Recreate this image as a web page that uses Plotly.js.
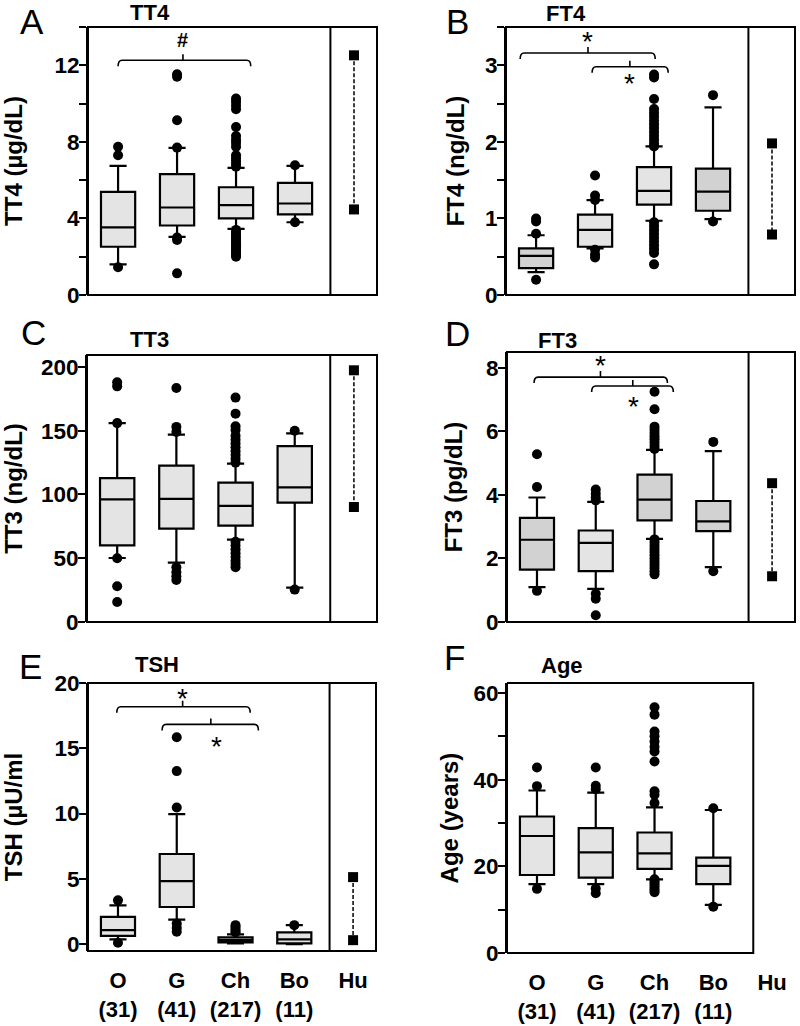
<!DOCTYPE html>
<html>
<head>
<meta charset="utf-8">
<script src="https://cdn.plot.ly/plotly-3.0.1.min.js"></script>
<style>html,body{margin:0;padding:0;background:#fff}#chart{width:800px;height:1026px}</style>
</head>
<body>
<div id="chart"></div>
<script>
// ---------------- data ----------------
const groups = ['O', 'G', 'Ch', 'Bo', 'Hu'];
const counts = ['(31)', '(41)', '(217)', '(11)', ''];

const tt4Q1 = [2.52, 3.63, 4.0, 4.21];
const tt4Med = [3.53, 4.57, 4.7, 4.78];
const tt4Q3 = [5.39, 6.31, 5.63, 5.86];
const tt4Lo = [1.6, 3.04, 3.45, 3.8];
const tt4Hi = [6.75, 7.69, 6.64, 6.75];
const tt4Out = [[7.74, 7.3, 1.45], [11.53, 11.4, 9.13, 7.7, 3.0, 2.87, 1.13],
  [10.26, 10.1, 9.9, 9.7, 8.78, 8.3, 8.1, 7.95, 7.75, 7.3, 7.15, 7.0, 6.85, 6.7,
   3.4, 3.3, 3.2, 3.1, 3.0, 2.9, 2.8, 2.7, 2.6, 2.5, 2.4, 2.3, 2.2, 2.1, 2.0], [6.78, 3.8]];
const tt4Hu = [12.52, 4.47];

const ft4Q1 = [0.35, 0.63, 1.18, 1.10];
const ft4Med = [0.51, 0.85, 1.36, 1.35];
const ft4Q3 = [0.61, 1.05, 1.67, 1.65];
const ft4Lo = [0.30, 0.61, 0.97, 0.99];
const ft4Hi = [0.78, 1.24, 1.94, 2.45];
const ft4Out = [[1.0, 0.96, 0.80, 0.2], [1.56, 1.30, 1.24, 0.59, 0.53, 0.49],
  [2.88, 2.84, 2.56, 2.43, 2.38, 2.33, 2.28, 2.23, 2.18, 2.13, 2.08, 2.03, 1.98, 1.94,
   0.95, 0.90, 0.85, 0.80, 0.75, 0.70, 0.65, 0.60, 0.55, 0.40], [2.61, 0.96]];
const ft4Hu = [1.98, 0.79];

const tt3Q1 = [60.1, 73.2, 75.6, 93.6];
const tt3Med = [96.2, 96.5, 91, 105.6];
const tt3Q3 = [112.9, 122.6, 109.3, 138];
const tt3Lo = [50.2, 46.5, 64.6, 27];
const tt3Hi = [156, 147, 124.2, 148];
const tt3Out = [[188, 184.8, 156, 50, 28, 15.7], [183.5, 153, 149, 43, 39, 35.8, 33],
  [176, 163.4, 153.5, 150.5, 146, 143, 140, 137, 134, 131, 128, 125,
   63, 60, 57, 54, 51, 48, 45.5, 43], [150, 25.4]];
const tt3Hu = [197.4, 90.2];

const ft3Q1 = [1.65, 1.6, 3.2, 2.86];
const ft3Med = [2.59, 2.49, 3.85, 3.17];
const ft3Q3 = [3.28, 2.88, 4.64, 3.81];
const ft3Lo = [1.10, 1.04, 2.62, 1.73];
const ft3Hi = [3.92, 3.78, 5.42, 5.38];
const ft3Out = [[5.28, 4.25, 0.98], [4.17, 4.04, 3.92, 3.83, 0.89, 0.73, 0.21],
  [7.25, 6.7, 6.15, 6.05, 5.95, 5.85, 5.75, 5.65, 5.55, 5.45,
   2.6, 2.5, 2.4, 2.3, 2.2, 2.1, 2.0, 1.9, 1.8, 1.7, 1.6, 1.5], [5.67, 1.6]];
const ft3Hu = [4.37, 1.44];

const tshQ1 = [0.63, 2.84, 0.13, 0.05];
const tshMed = [1.07, 4.82, 0.3, 0.36];
const tshQ3 = [2.08, 6.9, 0.51, 0.89];
const tshLo = [0.36, 1.88, 0.05, 0.0];
const tshHi = [2.97, 9.95, 0.74, 1.45];
const tshOut = [[3.35, 0.1], [15.84, 13.25, 10.46, 1.57, 1.24, 0.94], [1.45, 1.3, 1.15, 1.0, 0.89], [1.45]];
const tshHu = [5.13, 0.3];

const ageQ1 = [18.0, 17.4, 19.4, 15.9];
const ageMed = [27.0, 23.2, 23.0, 20.1];
const ageQ3 = [31.5, 28.8, 27.8, 22.0];
const ageLo = [15.9, 15.9, 17.0, 11.1];
const ageHi = [37.5, 37.0, 33.6, 33.0];
const ageOut = [[42.8, 38.5, 14.8], [42.8, 38.6, 37.8, 14.9, 13.8],
  [56.7, 55.0, 51.1, 50.0, 48.8, 47.6, 46.5, 44.2, 37.3, 36.5, 34.6,
   17.0, 16.5, 16.0, 15.5, 15.0, 14.5, 14.0], [33.4, 10.7]];
const ageHu = [];

// ---------------- styling / layout ----------------
const W = 800, H = 1026;
const FONT = 'Liberation Sans, Arial, sans-serif';
const LIGHT = '#e4e4e4', DARK = '#d2d2d2';
const XR = [-0.51, 4.39];
const DIV = 3.6;
const LABEL_SHIFT = -5;

const panels = [
  {letter: 'A', title: 'TT4', ytitle: 'TT4 (µg/dL)', q1: tt4Q1, med: tt4Med, q3: tt4Q3, lo: tt4Lo, hi: tt4Hi, out: tt4Out, hu: tt4Hu,
   xpx: [88, 377], ypx: [27, 295], yr: [0, 14], dtick: 4, minor: 2, standoff: 33,
   letterPos: [32, 0], letterTop: true, titlePos: [150, 12], fills: [LIGHT, LIGHT, LIGHT, LIGHT],
   brackets: [{xa: 0, xb: 2.25, xm: 1.1, y: 12.26}], marks: [{x: 1.1, y: 13.3, t: '#', s: 20, b: true}], showX: false, frameEnd: null},
  {letter: 'B', title: 'FT4', ytitle: 'FT4 (ng/dL)', q1: ft4Q1, med: ft4Med, q3: ft4Q3, lo: ft4Lo, hi: ft4Hi, out: ft4Out, hu: ft4Hu,
   xpx: [506, 795], ypx: [27, 295], yr: [0, 3.5], dtick: 1, minor: 0.5, standoff: 14,
   letterPos: [457, 0], letterTop: true, titlePos: [566, 13], fills: [DARK, LIGHT, LIGHT, DARK],
   brackets: [{xa: -0.27, xb: 2.02, xm: 0.88, y: 3.16}, {xa: 0.95, xb: 2.24, xm: 1.59, y: 2.98}],
   marks: [{x: 0.88, y: 3.31, t: '*', s: 28}, {x: 1.59, y: 2.76, t: '*', s: 28}], showX: false, frameEnd: null},
  {letter: 'C', title: 'TT3', ytitle: 'TT3 (ng/dL)', q1: tt3Q1, med: tt3Med, q3: tt3Q3, lo: tt3Lo, hi: tt3Hi, out: tt3Out, hu: tt3Hu,
   xpx: [87, 377], ypx: [355, 622], yr: [0, 209.4], dtick: 50, minor: null, standoff: 23,
   letterPos: [33, 332], titlePos: [149, 339], fills: [LIGHT, LIGHT, LIGHT, LIGHT],
   brackets: [], marks: [], showX: false, frameEnd: null},
  {letter: 'D', title: 'FT3', ytitle: 'FT3 (pg/dL)', q1: ft3Q1, med: ft3Med, q3: ft3Q3, lo: ft3Lo, hi: ft3Hi, out: ft3Out, hu: ft3Hu,
   xpx: [507, 795], ypx: [352, 622], yr: [0, 8.5], dtick: 2, minor: null, standoff: 17,
   letterPos: [457, 333], titlePos: [557, 340], fills: [DARK, LIGHT, DARK, DARK],
   brackets: [{xa: -0.05, xb: 2.22, xm: 1.08, y: 7.71}, {xa: 0.93, xb: 2.32, xm: 1.63, y: 7.43}],
   marks: [{x: 1.08, y: 8.08, t: '*', s: 28}, {x: 1.64, y: 6.8, t: '*', s: 28}], showX: false, frameEnd: null},
  {letter: 'E', title: 'TSH', ytitle: 'TSH (µU/ml', q1: tshQ1, med: tshMed, q3: tshQ3, lo: tshLo, hi: tshHi, out: tshOut, hu: tshHu,
   xpx: [88, 376], ypx: [683, 951], yr: [-0.53, 20], dtick: 5, minor: null, standoff: 33,
   letterPos: [30, 666], titlePos: [157, 664], fills: [LIGHT, LIGHT, DARK, LIGHT],
   brackets: [{xa: -0.02, xb: 2.25, xm: 1.1, y: 18.18}, {xa: 0.75, xb: 2.39, xm: 1.58, y: 16.83}],
   marks: [{x: 1.1, y: 18.8, t: '*', s: 28}, {x: 1.68, y: 15.1, t: '*', s: 28}], showX: true, frameEnd: null},
  {letter: 'F', title: 'Age', ytitle: 'Age (years)', q1: ageQ1, med: ageMed, q3: ageQ3, lo: ageLo, hi: ageHi, out: ageOut, hu: ageHu,
   xpx: [507, 795], ypx: [683, 953], yr: [0, 62.3], dtick: 20, minor: 10, standoff: 8,
   letterPos: [454, 657], titlePos: [562, 665], fills: [LIGHT, LIGHT, LIGHT, LIGHT],
   brackets: [], marks: [], showX: true, frameEnd: 3.68}
];

const traces = [];
const layout = {
  width: W, height: H, margin: {l: 0, r: 0, t: 0, b: 0},
  paper_bgcolor: '#fff', plot_bgcolor: 'rgba(0,0,0,0)', showlegend: false,
  font: {family: FONT, color: '#000'},
  shapes: [], annotations: []
};

panels.forEach((p, i) => {
  const n = i + 1;
  const xa = 'x' + (n === 1 ? '' : n), ya = 'y' + (n === 1 ? '' : n);
  const xk = 'xaxis' + (n === 1 ? '' : n), yk = 'yaxis' + (n === 1 ? '' : n);
  const pxPerY = (p.ypx[1] - p.ypx[0]) / (p.yr[1] - p.yr[0]);
  const pxPerX = (p.xpx[1] - p.xpx[0]) / (XR[1] - XR[0]);

  layout[xk] = {
    domain: [p.xpx[0] / W, p.xpx[1] / W], anchor: ya, range: XR,
    showgrid: false, zeroline: false, showline: false, ticks: '',
    tickmode: 'array', tickvals: groups.map((g, k) => k),
    ticktext: groups.map((g, k) => counts[k] ? g + '<br>' + counts[k] : g),
    showticklabels: p.showX, ticklabelstandoff: 14,
    tickfont: {family: FONT, size: 22, color: '#000', weight: 'bold'}, fixedrange: true
  };
  const yax = {
    domain: [1 - p.ypx[1] / H, 1 - p.ypx[0] / H], anchor: xa, range: p.yr,
    showgrid: false, zeroline: false, showline: true, linewidth: 2, linecolor: '#000',
    ticks: 'outside', ticklen: 7, tickwidth: 2, tickcolor: '#000',
    tickmode: 'linear', tick0: 0, dtick: p.dtick, ticklabelstandoff: LABEL_SHIFT,
    tickfont: {family: FONT, size: 22.5, color: '#000', weight: 'bold'},
    title: {text: p.ytitle, standoff: p.standoff, font: {family: FONT, size: 24, color: '#000', weight: 'bold'}},
    fixedrange: true
  };
  if (p.minor) yax.minor = {dtick: p.minor, tick0: 0, ticks: 'outside', ticklen: 7, tickwidth: 2, tickcolor: '#000', showgrid: false};
  layout[yk] = yax;

  // boxes
  for (let k = 0; k < 4; k++) {
    traces.push({
      type: 'box', xaxis: xa, yaxis: ya, x: [k],
      q1: [p.q1[k]], median: [p.med[k]], q3: [p.q3[k]],
      lowerfence: [p.lo[k]], upperfence: [p.hi[k]],
      width: 0.58, whiskerwidth: 0.5, boxpoints: false,
      fillcolor: p.fills[k], line: {color: '#000', width: 2.2},
      hoverinfo: 'skip'
    });
  }
  // outliers
  const ox = [], oy = [];
  p.out.forEach((arr, k) => arr.forEach(v => { ox.push(k); oy.push(v); }));
  traces.push({type: 'scatter', mode: 'markers', xaxis: xa, yaxis: ya, x: ox, y: oy,
    marker: {color: '#000', size: 10}, hoverinfo: 'skip'});
  // human reference range
  if (p.hu.length) {
    traces.push({type: 'scatter', mode: 'lines+markers', xaxis: xa, yaxis: ya,
      x: p.hu.map(() => 4), y: p.hu,
      line: {color: '#000', width: 1.5, dash: '4px,2px'},
      marker: {symbol: 'square', size: 10, color: '#000'}, hoverinfo: 'skip'});
  }
  // frame
  if (p.frameEnd === null) {
    layout.shapes.push({type: 'rect', xref: xa + ' domain', yref: ya + ' domain', x0: 0, x1: 1, y0: 0, y1: 1,
      line: {color: '#000', width: 2}});
    layout.shapes.push({type: 'line', xref: xa, yref: ya + ' domain', x0: DIV, x1: DIV, y0: 0, y1: 1,
      line: {color: '#000', width: 2}});
  } else {
    layout.shapes.push({type: 'rect', xref: xa, yref: ya + ' domain', x0: XR[0], x1: p.frameEnd, y0: 0, y1: 1,
      line: {color: '#000', width: 2}});
  }
  // brackets
  p.brackets.forEach(b => {
    const dn = 6 / pxPerY, up = 6 / pxPerY, cx = 4 / pxPerX;
    const path = `M ${b.xa},${b.y - dn} Q ${b.xa},${b.y} ${b.xa + cx},${b.y} L ${b.xb - cx},${b.y} Q ${b.xb},${b.y} ${b.xb},${b.y - dn} M ${b.xm},${b.y} L ${b.xm},${b.y + up}`;
    layout.shapes.push({type: 'path', xref: xa, yref: ya, path: path, line: {color: '#000', width: 1.6}});
  });
  p.marks.forEach(m => {
    layout.annotations.push({xref: xa, yref: ya, x: m.x, y: m.y, text: m.t, showarrow: false,
      font: {family: FONT, size: m.s, color: '#000', weight: m.b ? 'bold' : 'normal'}, xanchor: 'center', yanchor: 'middle'});
  });
  // panel letter & title
  layout.annotations.push({xref: 'paper', yref: 'paper', x: p.letterPos[0] / W, y: 1 - p.letterPos[1] / H,
    text: p.letter, showarrow: false, xanchor: 'center', yanchor: p.letterTop ? 'top' : 'middle',
    font: {family: FONT, size: 35, color: '#000'}});
  layout.annotations.push({xref: 'paper', yref: 'paper', x: p.titlePos[0] / W, y: 1 - p.titlePos[1] / H,
    text: p.title, showarrow: false, xanchor: 'center', yanchor: 'middle',
    font: {family: FONT, size: 22, color: '#000', weight: 'bold'}});
});

Plotly.newPlot('chart', traces, layout, {staticPlot: true, displayModeBar: false});
</script>
</body>
</html>
